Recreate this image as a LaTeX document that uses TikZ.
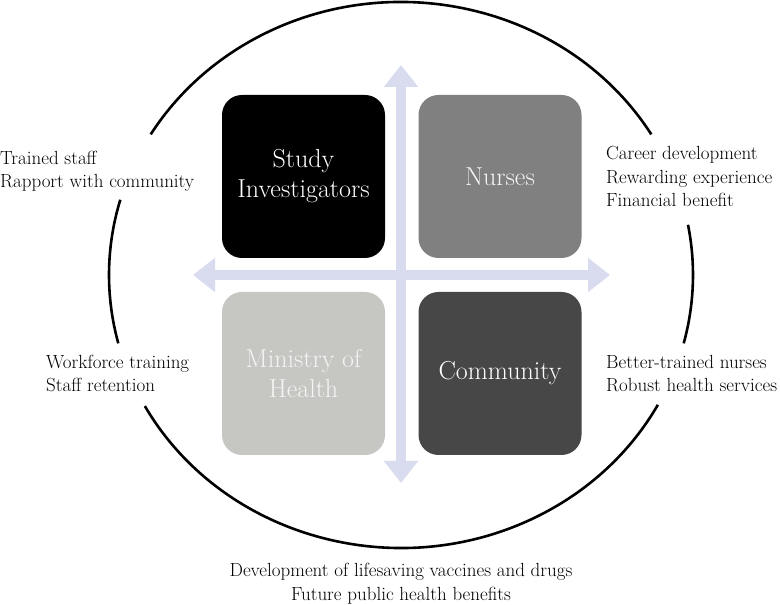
\documentclass[tikz,border=0pt]{standalone}
\usepackage{fontspec}
\usetikzlibrary{arrows.meta}
\definecolor{arrowc}{HTML}{D9DCEF}
\definecolor{nursec}{HTML}{808080}
\definecolor{minc}{HTML}{C6C7C3}
\definecolor{commc}{HTML}{474747}
\definecolor{boxtxt}{HTML}{F4F4F4}
\tikzset{
  quad/.style={rounded corners=20pt, minimum width=163pt, minimum height=163pt, inner sep=0pt, align=center, text=boxtxt, font=\fontsize{26}{30}\selectfont},
  lab/.style={inner sep=0pt, font=\fontsize{19}{23.5}\selectfont},
  axis/.style={line width=10pt, draw=arrowc, {Triangle[width=33pt,length=22pt]}-{Triangle[width=33pt,length=22pt]}},
  ring/.style={line width=2.6pt, draw=black}
}
\begin{document}
\begin{tikzpicture}[x=1pt,y=1pt]
\useasboundingbox (0,0) rectangle (780,605);
\fill[white] (0,0) rectangle (780,605);
% axes
\coordinate (vt) at (401,540);
\coordinate (vb) at (401,122);
\coordinate (hl) at (193,330);
\coordinate (hr) at (610,330);
\draw[axis] (vb) -- (vt);
\draw[axis] (hl) -- (hr);
% boxes
\node[quad, fill=black, text=white] (si) at (303.5,428.5) {Study\\Investigators};
\node[quad, fill=nursec] (nu) at (500,428.5) {Nurses};
\node[quad, fill=minc] (mh) at (303.5,231.5) {Ministry of\\Health};
\node[quad, fill=commc, text=white] (co) at (500,231.5) {Community};
% ring
\coordinate (c) at (401,330);
\draw[ring] (c) ++(31:292 and 273) arc[start angle=31, end angle=149, x radius=292, y radius=273];
\draw[ring] (c) ++(164:292 and 273) arc[start angle=164, end angle=194.5, x radius=292, y radius=273];
\draw[ring] (c) ++(208.7:292 and 273) arc[start angle=208.7, end angle=331.6, x radius=292, y radius=273];
\draw[ring] (c) ++(345.5:292 and 273) arc[start angle=345.5, end angle=370.6, x radius=292, y radius=273];
% labels
\node[lab, anchor=west, align=left] (l1) at (0,433.5) {Trained staff\\Rapport with community};
\node[lab, anchor=west, align=left] (l2) at (606,428.5) {Career development\\Rewarding experience\\Financial benefit};
\node[lab, anchor=west, align=left] (l3) at (46,231.5) {Workforce training\\Staff retention};
\node[lab, anchor=west, align=left] (l4) at (606,231.5) {Better-trained nurses\\Robust health services};
\node[lab, align=center] (l5) at (401,21.5) {Development of lifesaving vaccines and drugs\\Future public health benefits};
\end{tikzpicture}
\end{document}
